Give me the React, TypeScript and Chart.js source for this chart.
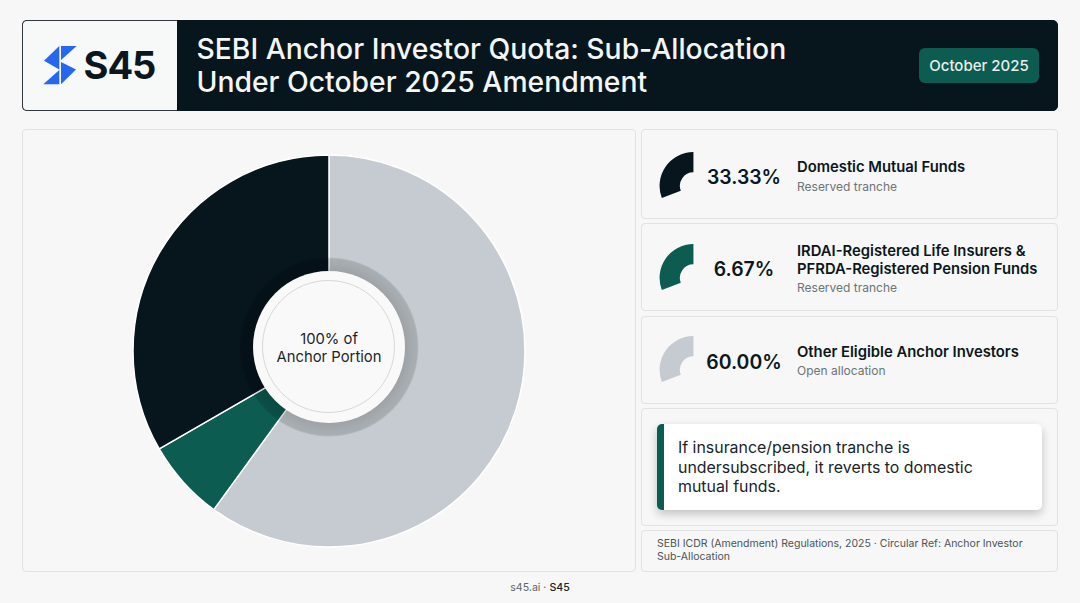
import React, { useEffect, useRef } from "react";
import { Chart, registerables } from "chart.js";

Chart.register(...registerables);

const categories = ["Other Eligible Anchor Investors", "IRDAI-Registered Life Insurers & PFRDA-Registered Pension Funds", "Domestic Mutual Funds"];
const shares = [60.0, 6.67, 33.33];
const sliceColors = ["#c5cbd0", "#0d5c52", "#07151d"];
const iconSweep = 111;
const FONT = "Inter, 'Noto Sans', sans-serif";

const rows = [
  { top: 129, h: 90, pct: "33.33%", name: ["Domestic Mutual Funds"], sub: "Reserved tranche", color: sliceColors[2], iconTop: 152, pctTop: 165, nameTop: 158, subTop: 179 },
  { top: 223, h: 88, pct: "6.67%", name: ["IRDAI-Registered Life Insurers &", "PFRDA-Registered Pension Funds"], sub: "Reserved tranche", color: sliceColors[1], iconTop: 244, pctTop: 257, nameTop: 242, subTop: 280 },
  { top: 316, h: 88, pct: "60.00%", name: ["Other Eligible Anchor Investors"], sub: "Open allocation", color: sliceColors[0], iconTop: 336, pctTop: 350, nameTop: 343, subTop: 363 },
];

const panel: React.CSSProperties = { position: "absolute", boxSizing: "border-box", background: "#f6f7f6", border: "1px solid #e0e3e2", borderRadius: 4 };
const abs = (left: number, top: number, extra: React.CSSProperties = {}): React.CSSProperties => ({ position: "absolute", left, top, whiteSpace: "nowrap", ...extra });

function Icon({ color, top }: { color: string; top: number }) {
  const ref = useRef<HTMLCanvasElement>(null);
  useEffect(() => {
    const c = new Chart(ref.current!, {
      type: "doughnut",
      data: { labels: ["share"], datasets: [{ data: [1], backgroundColor: [color], borderWidth: 0 }] },
      options: {
        animation: false, responsive: false, cutout: "40%", rotation: -iconSweep, circumference: iconSweep,
        plugins: { legend: { display: false }, tooltip: { enabled: false } },
      },
    });
    return () => c.destroy();
  }, [color]);
  return <canvas ref={ref} width={35} height={46} style={{ position: "absolute", left: 659, top, width: 35, height: 46 }} />;
}

export default function App() {
  const ref = useRef<HTMLCanvasElement>(null);
  useEffect(() => {
    document.body.style.margin = "0";
    const c = new Chart(ref.current!, {
      type: "doughnut",
      data: { labels: categories, datasets: [{ data: shares, backgroundColor: sliceColors, borderColor: "#ffffff", borderWidth: 1.5 }] },
      options: {
        animation: false, responsive: false, cutout: "30%", radius: 196,
        layout: { padding: 0 },
        plugins: { legend: { display: false }, tooltip: { enabled: false } },
      },
    });
    return () => c.destroy();
  }, []);
  return (
    <div style={{ position: "relative", width: 1080, height: 603, overflow: "hidden", background: "#f6f7f6", fontFamily: FONT, color: "#0b1720" }}>
      {/* header */}
      <div style={{ ...panel, left: 22, top: 20, width: 1036, height: 91, background: "#07151d", border: "1px solid #07151d", borderRadius: 5 }} />
      <div style={{ ...panel, left: 22, top: 20, width: 155, height: 91, background: "#f7f8f8", border: "1px solid #30383d", borderRight: "none", borderRadius: "5px 0 0 5px" }} />
      <svg style={{ position: "absolute", left: 0, top: 0 }} width={100} height={100} viewBox="0 0 100 100">
        <polygon points="44,60.7 59.3,46 59.3,69.5" fill="#2568ee" />
        <polygon points="61,46 76.7,46 61,60" fill="#2568ee" />
        <polygon points="43.3,84.3 59.3,70 59.3,84.3" fill="#2568ee" />
        <polygon points="61,62 76,69.5 61,84.3" fill="#2568ee" />
      </svg>
      <div style={abs(83.5, 41, { fontSize: 38, fontWeight: 700, letterSpacing: -1, color: "#0b1720", lineHeight: "48px" })}>S45</div>
      <div style={abs(196.5, 33, { fontSize: 28.3, fontWeight: 500, color: "#f4f6f6", lineHeight: "33px" })}>SEBI Anchor Investor Quota: Sub-Allocation<br />Under October 2025 Amendment</div>
      <div style={{ position: "absolute", left: 919, top: 48, width: 120, height: 35, borderRadius: 6, background: "#0d5c52", color: "#e8eeec", fontSize: 15, fontWeight: 500, display: "flex", alignItems: "center", justifyContent: "center" }}>October 2025</div>

      {/* chart panel */}
      <div style={{ ...panel, left: 22, top: 129, width: 614, height: 443 }} />
      <canvas ref={ref} width={400} height={400} style={{ position: "absolute", left: 129, top: 151, width: 400, height: 400 }} />
      <div style={{ position: "absolute", left: 239, top: 256.5, width: 180, height: 180, borderRadius: "50%", background: "radial-gradient(circle closest-side, rgba(0,0,0,.2) 0%, rgba(0,0,0,.2) 84%, rgba(0,0,0,.16) 92%, rgba(0,0,0,.14) 98%, rgba(0,0,0,0) 100%)" }} />
      <div style={{ position: "absolute", left: 253, top: 270.5, width: 152, height: 152, borderRadius: "50%", background: "#f8f9f8" }} />
      <div style={{ position: "absolute", boxSizing: "border-box", left: 262, top: 280, width: 133, height: 133, borderRadius: "50%", border: "1px solid #d6d9d8" }} />
      <div style={abs(229, 330, { width: 200, textAlign: "center", fontSize: 14.8, lineHeight: "18px", color: "#1c262c" })}>100% of<br />Anchor Portion</div>

      {/* stat rows */}
      {rows.map((r) => (
        <React.Fragment key={r.pct}>
          <div style={{ ...panel, left: 641, top: r.top, width: 417, height: r.h }} />
          <Icon color={r.color} top={r.iconTop} />
          <div style={abs(694, r.pctTop, { width: 100, textAlign: "center", fontSize: 19.4, fontWeight: 600, lineHeight: "24px" })}>{r.pct}</div>
          <div style={abs(797, r.nameTop, { fontSize: 14.8, fontWeight: 600, lineHeight: "18px" })}>{r.name.map((n, i) => <div key={i}>{n}</div>)}</div>
          <div style={abs(797, r.subTop, { fontSize: 12, color: "#6d7478", lineHeight: "16px" })}>{r.sub}</div>
        </React.Fragment>
      ))}

      {/* note */}
      <div style={{ ...panel, left: 641, top: 408, width: 417, height: 118 }} />
      <div style={{ position: "absolute", boxSizing: "border-box", left: 657, top: 424, width: 385, height: 86, background: "#fff", borderLeft: "7px solid #0d5c52", borderRadius: 5, boxShadow: "0 4px 10px rgba(0,0,0,.22)" }} />
      <div style={abs(678, 438, { fontSize: 15.9, lineHeight: "19.5px", color: "#1a242a" })}>If insurance/pension tranche is<br />undersubscribed, it reverts to domestic<br />mutual funds.</div>

      {/* source */}
      <div style={{ ...panel, left: 641, top: 530, width: 417, height: 42 }} />
      <div style={abs(657, 537, { fontSize: 10.5, lineHeight: "13px", color: "#4c5459" })}>SEBI ICDR (Amendment) Regulations, 2025 · Circular Ref: Anchor Investor<br />Sub-Allocation</div>

      <div style={abs(0, 581, { width: 1080, textAlign: "center", fontSize: 10.6, color: "#5f666a", lineHeight: "14px" })}>s45.ai · <span style={{ fontWeight: 500, color: "#1a242a" }}>S45</span></div>
    </div>
  );
}
